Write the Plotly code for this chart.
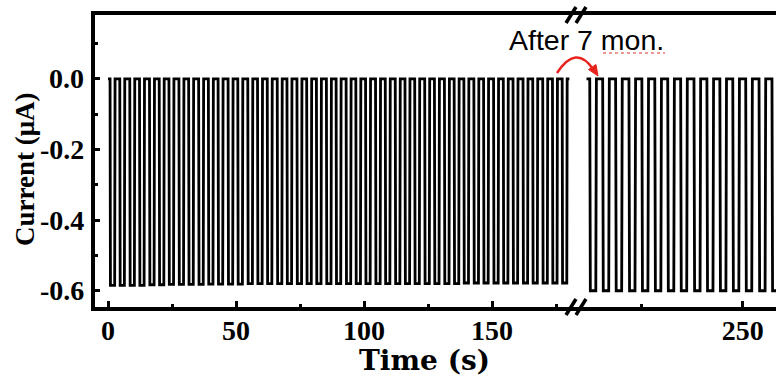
import plotly.graph_objects as go

# ---------------- data ----------------
# left segment: times (s) at which current drops (light on), pulse width, low level
left_drop_times = [0.8, 4.6, 8.5, 12.3, 16.2, 20.0, 23.8, 27.7, 31.5, 35.4, 39.2, 43.0,
                   46.9, 50.7, 54.6, 58.4, 62.2, 66.1, 69.9, 73.8, 77.6, 81.4, 85.3, 89.1,
                   93.0, 96.8, 100.6, 104.5, 108.3, 112.2, 116.0, 119.8, 123.7, 127.5,
                   131.4, 135.2, 139.0, 142.9, 146.7, 150.6, 154.4, 158.2, 162.1, 165.9,
                   169.8, 173.6, 177.4]
left_low_levels = [-0.585, -0.585, -0.585, -0.585, -0.583, -0.583, -0.582, -0.582, -0.582,
                   -0.582, -0.581, -0.581, -0.581, -0.581, -0.58, -0.58, -0.58, -0.58,
                   -0.58, -0.58, -0.58, -0.58, -0.58, -0.58, -0.58, -0.58, -0.58, -0.58,
                   -0.58, -0.58, -0.58, -0.58, -0.58, -0.58, -0.58, -0.58, -0.578, -0.578,
                   -0.578, -0.578, -0.578, -0.578, -0.578, -0.578, -0.578, -0.578, -0.578]
left_pulse_width = 1.95
left_start, left_end = 0.0, 180.2
high_level = 0.0

# right segment (after 7 months)
right_drop_times = [212.1, 215.3, 218.5, 221.8, 225.0, 228.2, 231.4, 234.6, 237.9,
                    241.1, 244.3, 247.5, 250.7, 254.0, 257.2]
right_low_levels = [-0.60, -0.60, -0.60, -0.60, -0.60, -0.60, -0.60, -0.60, -0.60,
                    -0.60, -0.60, -0.60, -0.60, -0.60, -0.60]
right_pulse_width = 1.65
right_start, right_end = 211.3, 259.0

# axis ticks
left_xticks = [0, 50, 100, 150]
left_xticklabels = ["0", "50", "100", "150"]
left_xminor = [25, 75, 125, 175]
right_xticks = [250]
right_xticklabels = ["250"]
right_xminor = [225]
yticks = [0.0, -0.2, -0.4, -0.6]
yticklabels = ["0.0", "-0.2", "-0.4", "-0.6"]
yminor = [0.1, -0.1, -0.3, -0.5]


def square_wave(start, end, drops, lows, width, high):
    xs, ys = [start], [high]
    ramp = 0.15
    for d, lo in zip(drops, lows):
        xs += [d, d + ramp, d + width - ramp, d + width]
        ys += [high, lo, lo, high]
    xs.append(end)
    ys.append(high)
    return xs, ys


lx, ly = square_wave(left_start, left_end, left_drop_times, left_low_levels,
                     left_pulse_width, high_level)
rx, ry = square_wave(right_start, right_end, right_drop_times, right_low_levels,
                     right_pulse_width, high_level)

# ---------------- figure ----------------
W, H = 776, 381
L, R, T, B = 95, 776, 15, 307


def px(x):
    return (x - L) / (R - L)


def py(y):
    return (B - y) / (B - T)


split = px(576)

fig = go.Figure()
fig.add_trace(go.Scatter(x=lx, y=ly, mode="lines", xaxis="x", yaxis="y",
                         line=dict(color="black", width=2.8), showlegend=False))
fig.add_trace(go.Scatter(x=rx, y=ry, mode="lines", xaxis="x2", yaxis="y",
                         line=dict(color="black", width=2.8), showlegend=False))

tickfont = dict(family="Liberation Serif", size=28, color="black", weight="bold")
axis_common = dict(showline=True, linecolor="black", linewidth=3.5, mirror=True,
                   ticks="inside", ticklen=6, tickwidth=2.5, tickcolor="black",
                   showgrid=False, zeroline=False, tickfont=tickfont,
                   ticklabelstandoff=-4)

fig.update_layout(
    width=W, height=H,
    margin=dict(l=L, r=W - R, t=T, b=H - B),
    paper_bgcolor="white", plot_bgcolor="white",
    xaxis=dict(domain=[0, split], range=[-5.08, 182.8], anchor="y",
               tickvals=left_xticks, ticktext=left_xticklabels,
               minor=dict(tickvals=left_xminor, ticks="inside", ticklen=3,
                          tickwidth=2.5, tickcolor="black"),
               **axis_common),
    xaxis2=dict(domain=[split, 1], range=[208.7, 258.2], anchor="y",
                tickvals=right_xticks, ticktext=right_xticklabels,
                minor=dict(tickvals=right_xminor, ticks="inside", ticklen=3,
                           tickwidth=2.5, tickcolor="black"),
                **axis_common),
    yaxis=dict(range=[-0.646, 0.181], showline=True, linecolor="black", linewidth=3.5,
               ticks="inside", ticklen=5, tickwidth=2.5, tickcolor="black",
               tickvals=yticks, showticklabels=False,
               minor=dict(tickvals=yminor, ticks="inside", ticklen=3,
                          tickwidth=2.5, tickcolor="black"),
               showgrid=False, zeroline=False),
)

# y tick labels, placed on the y scale a little left of the spine
for v, t in zip(yticks, yticklabels):
    fig.add_annotation(text=t, xref="paper", yref="y", x=0, y=v, xanchor="right",
                       yanchor="middle", xshift=-9, showarrow=False, font=tickfont)

# axis titles
fig.add_annotation(text="Time (s)", xref="paper", yref="paper", x=px(424), y=py(360),
                   showarrow=False, xanchor="center", yanchor="middle",
                   font=dict(family="DejaVu Serif", size=28, color="black",
                             weight="bold"))
fig.add_annotation(text="Current (μA)", xref="paper", yref="paper", x=px(25), y=py(169),
                   showarrow=False, xanchor="center", yanchor="middle", textangle=-90,
                   font=dict(family="Liberation Serif", size=27, color="black",
                             weight="bold"))

# "After 7 mon." label
fig.add_annotation(text="After 7 mon.", xref="paper", yref="paper", x=px(586), y=py(40),
                   showarrow=False, xanchor="center", yanchor="middle",
                   font=dict(family="Liberation Sans", size=28.5, color="black"))
# spell-check squiggle under "mon"
fig.add_shape(type="line", xref="paper", yref="paper", x0=px(603), x1=px(665),
              y0=py(53), y1=py(53), line=dict(color="#e03030", width=1, dash="dot"))

# axis break marks
for cy in (T, B):
    for cx in (571, 581):
        fig.add_shape(type="line", xref="paper", yref="paper",
                      x0=px(cx - 5), y0=py(cy + 8), x1=px(cx + 5), y1=py(cy - 8),
                      line=dict(color="black", width=3.5))

# red curved arrow
p0, c, p1 = (557, 73), (576, 44), (593, 69)
path = "M {},{} Q {},{} {},{}".format(px(p0[0]), py(p0[1]), px(c[0]), py(c[1]),
                                       px(p1[0]), py(p1[1]))
fig.add_shape(type="path", xref="paper", yref="paper", path=path,
              line=dict(color="#e8231e", width=2.5))
head = [(598, 76), (588.5, 69.5), (596, 64.5)]
hpath = "M {},{} L {},{} L {},{} Z".format(*[v for pt in head for v in (px(pt[0]), py(pt[1]))])
fig.add_shape(type="path", xref="paper", yref="paper", path=hpath,
              line=dict(color="#e8231e", width=1), fillcolor="#e8231e")

fig.write_html("out.html")
